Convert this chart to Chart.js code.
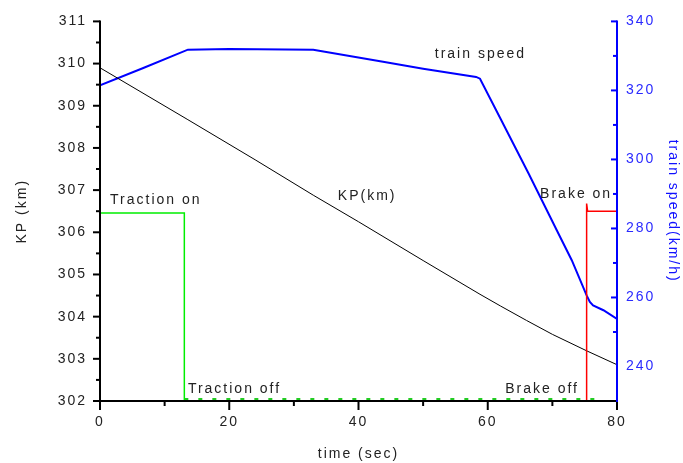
<!DOCTYPE html>
<html><head><meta charset="utf-8">
<script src="https://cdn.jsdelivr.net/npm/chart.js@4"></script>
<style>html,body{margin:0;padding:0;background:#fff}#wrap{width:683px;height:463px}</style>
</head><body><div id="wrap"><canvas id="c" width="683" height="463"></canvas></div>
<script>
// ---- data ----
const kpTime  = [0, 13.6, 24, 33, 40, 50, 58.8, 62, 66, 70, 75.3, 80];
const kpValue = [309.9, 308.67, 307.72, 306.88, 306.25, 305.33, 304.53, 304.25, 303.91, 303.58, 303.19, 302.86];
const speedTime  = [0, 6.7, 13.6, 20, 33, 43.8, 50, 58.2, 58.8, 61.9, 66.3, 70.7, 73, 75.3, 75.8, 76.3, 77.9, 80];
const speedValue = [321.5, 326.5, 331.8, 332, 331.8, 328.3, 326.3, 323.9, 323.4, 312.1, 296, 279.4, 270.8, 260.6, 258.7, 257.7, 256.3, 253.8];
const tractionTime  = [0, 13.05, 13.05];
const tractionValue = [306.46, 306.46, 302];
const tractionOffTime  = [13.05, 77.5];
const tractionOffValue = [302.05, 302.05];
const brakeTime  = [75.3, 75.3, 75.45, 80];
const brakeValue = [302, 306.68, 306.5, 306.5];
const xTicks  = [0, 20, 40, 60, 80];
const kpTicks = [302, 303, 304, 305, 306, 307, 308, 309, 310, 311];
const spTicks = [240, 260, 280, 300, 320, 340];
const notes = [
  {text: 'Traction on',  t: 1.55, v: 306.68},
  {text: 'Traction off', t: 13.6, v: 302.19},
  {text: 'KP(km)',       t: 36.8, v: 306.77},
  {text: 'train speed',  t: 51.8, v: 310.13},
  {text: 'Brake on',     t: 68.1, v: 306.82},
  {text: 'Brake off',    t: 62.7, v: 302.19}
];

const pts = (xs, ys) => xs.map((x, i) => ({x: x, y: ys[i]}));
const FONT = "'Liberation Sans', Arial, sans-serif";

const axesPlugin = {
  id: 'axes',
  beforeDraw(chart) { chart.ctx.letterSpacing = '2px'; },
  afterDraw(chart) {
    const ctx = chart.ctx, a = chart.chartArea;
    const x = chart.scales.x, y = chart.scales.y, y2 = chart.scales.y2;
    ctx.save();
    ctx.lineWidth = 2;
    // left axis
    ctx.strokeStyle = '#000';
    ctx.beginPath(); ctx.moveTo(a.left, a.top - 1); ctx.lineTo(a.left, a.bottom + 1); ctx.stroke();
    for (let v = 302; v <= 311.001; v += 0.5) {
      const py = y.getPixelForValue(v);
      const len = Math.abs(v - Math.round(v)) < 0.01 ? 7 : 4;
      ctx.beginPath(); ctx.moveTo(a.left - len, py); ctx.lineTo(a.left, py); ctx.stroke();
    }
    // bottom axis
    ctx.beginPath(); ctx.moveTo(a.left - 1, a.bottom); ctx.lineTo(a.right, a.bottom); ctx.stroke();
    for (let t = 0; t <= 80; t += 10) {
      const px = x.getPixelForValue(t);
      const len = t % 20 === 0 ? 9 : 5;
      ctx.beginPath(); ctx.moveTo(px, a.bottom); ctx.lineTo(px, a.bottom + len); ctx.stroke();
    }
    // right axis
    ctx.strokeStyle = '#0000ff';
    ctx.beginPath(); ctx.moveTo(a.right, a.top - 1); ctx.lineTo(a.right, a.bottom + 1); ctx.stroke();
    for (let v = 250; v <= 340; v += 10) {
      const py = y2.getPixelForValue(v);
      const len = v % 20 === 0 ? 6 : 4;
      ctx.beginPath(); ctx.moveTo(a.right - len, py); ctx.lineTo(a.right, py); ctx.stroke();
    }
    // text notes
    ctx.fillStyle = '#222';
    ctx.font = '14px ' + FONT;
    ctx.textAlign = 'left';
    ctx.textBaseline = 'alphabetic';
    ctx.letterSpacing = '2px';
    notes.forEach(n => ctx.fillText(n.text, x.getPixelForValue(n.t), y.getPixelForValue(n.v)));
    ctx.restore();
  }
};

const tickFont = {family: FONT, size: 14};
new Chart(document.getElementById('c'), {
  type: 'line',
  data: {
    datasets: [
      {data: pts(tractionTime, tractionValue), borderColor: '#00ee00', borderWidth: 1.5, yAxisID: 'y'},
      {data: pts(tractionOffTime, tractionOffValue), borderColor: '#22cc22', borderWidth: 2, borderDash: [4, 10], yAxisID: 'y'},
      {data: pts(brakeTime, brakeValue), borderColor: '#ff0000', borderWidth: 1.5, yAxisID: 'y'},
      {data: pts(kpTime, kpValue), borderColor: '#000000', borderWidth: 1, yAxisID: 'y'},
      {data: pts(speedTime, speedValue), borderColor: '#0000ff', borderWidth: 2, yAxisID: 'y2'}
    ]
  },
  options: {
    responsive: false,
    animation: false,
    events: [],
    layout: {padding: {top: 20, left: 0, right: 0, bottom: 0}},
    elements: {point: {radius: 0}, line: {tension: 0, fill: false}},
    plugins: {legend: {display: false}, tooltip: {enabled: false}},
    scales: {
      x: {
        type: 'linear', position: 'bottom', min: 0, max: 80,
        afterFit: s => { s.height = 62; },
        afterBuildTicks: s => { s.ticks = xTicks.map(v => ({value: v})); },
        grid: {display: false, drawTicks: false}, border: {display: false},
        ticks: {font: tickFont, color: '#222', padding: 13, maxRotation: 0},
        title: {display: true, text: 'time (sec)', font: tickFont, color: '#222', padding: {top: 0, bottom: 0}}
      },
      y: {
        type: 'linear', position: 'left', min: 302, max: 311,
        afterFit: s => { s.width = 100; },
        afterBuildTicks: s => { s.ticks = kpTicks.map(v => ({value: v})); },
        grid: {display: false, drawTicks: false}, border: {display: false},
        ticks: {font: tickFont, color: '#222', padding: 13},
        title: {display: true, text: 'KP (km)', font: tickFont, color: '#222', padding: {top: 14, bottom: 0}}
      },
      y2: {
        type: 'linear', position: 'right', min: 230, max: 340,
        afterFit: s => { s.width = 66; },
        afterBuildTicks: s => { s.ticks = spTicks.map(v => ({value: v})); },
        grid: {display: false, drawTicks: false}, border: {display: false},
        ticks: {font: tickFont, color: '#2a2aff', padding: 9},
        title: {display: true, text: 'train speed(km/h)', font: tickFont, color: '#1010ff', padding: {top: 2, bottom: 0}}
      }
    }
  },
  plugins: [axesPlugin]
});
</script></body></html>
